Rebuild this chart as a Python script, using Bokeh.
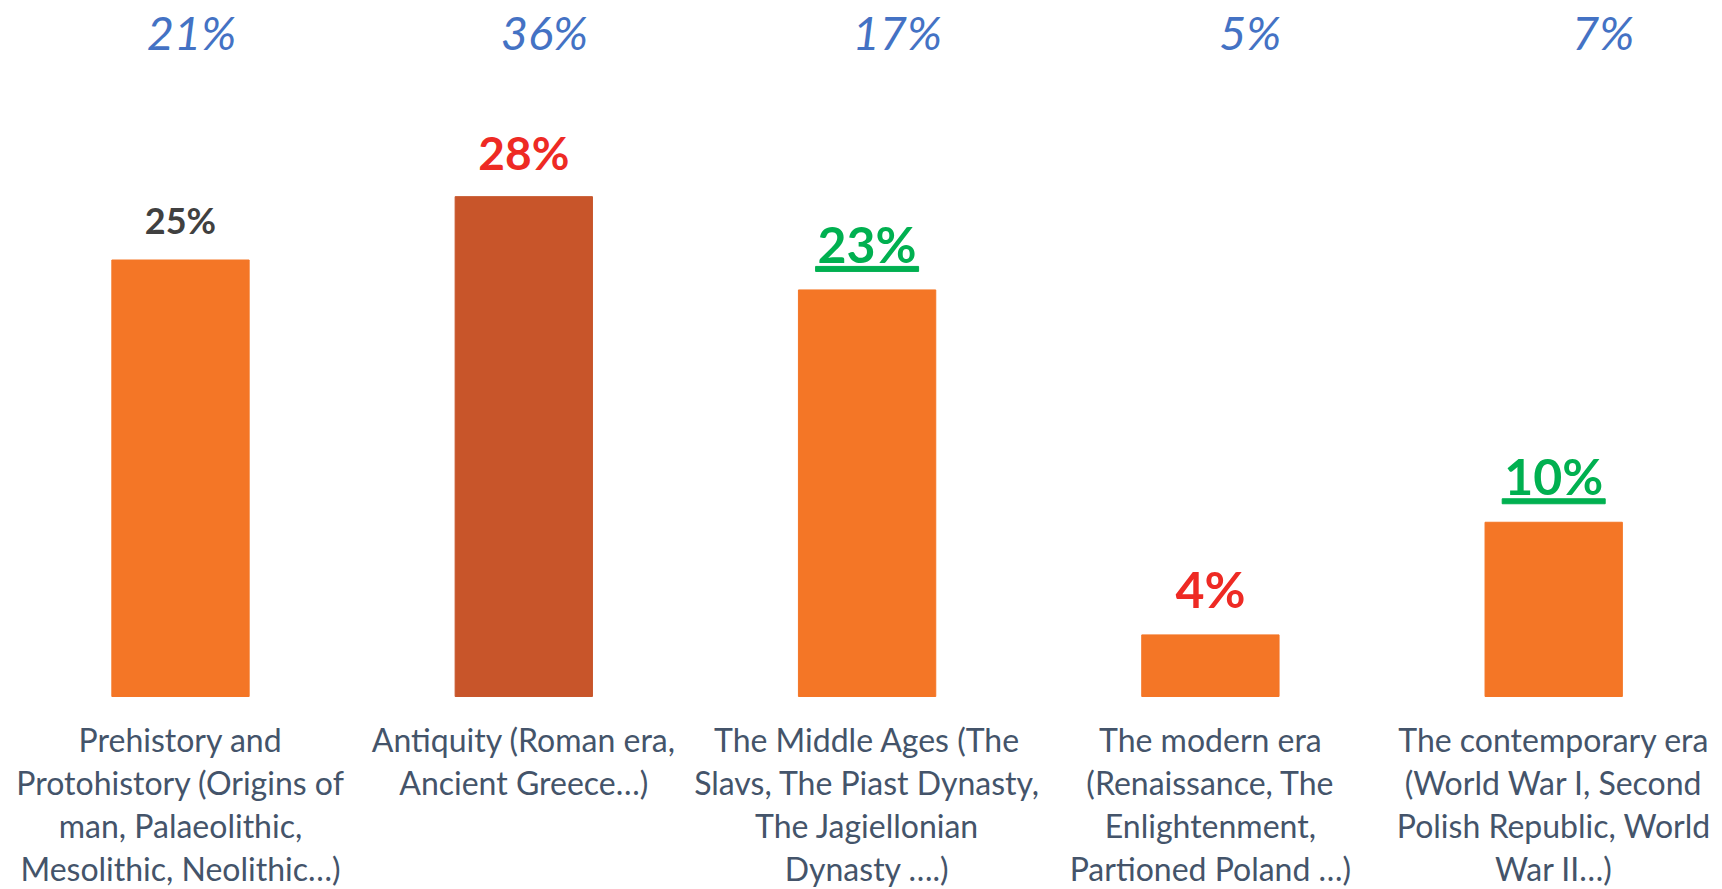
import numpy as np
from bokeh.plotting import figure
from bokeh.models import ColumnDataSource, Range1d
from bokeh.core.properties import value
from bokeh.embed import file_html
from bokeh.resources import INLINE

categories = [
    "Prehistory and\nProtohistory (Origins of\nman, Palaeolithic,\nMesolithic, Neolithic…)",
    "Antiquity (Roman era,\nAncient Greece…)",
    "The Middle Ages (The\nSlavs, The Piast Dynasty,\nThe Jagiellonian\nDynasty ….)",
    "The modern era\n(Renaissance, The\nEnlightenment,\nPartioned Poland …)",
    "The contemporary era\n(World War I, Second\nPolish Republic, World\nWar II…)",
]
values = [24.8, 28.4, 23.1, 3.5, 9.9]
value_labels = ["25%", "28%", "23%", "4%", "10%"]
top_labels = ["21%", "36%", "17%", "5%", "7%"]
bar_colors = ["#F47626", "#C8552A", "#F47626", "#F47626", "#F47626"]
label_colors = ["#404040", "#EE2A24", "#00B050", "#EE2A24", "#00B050"]
label_sizes = [36, 46, 50, 50, 50]
underlined = [False, False, True, False, True]

FONT = "Lato"
PX_PER_UNIT = 17.6

idx = np.arange(len(categories))
src = ColumnDataSource(dict(
    x=idx, top=values, lab=value_labels, col=bar_colors,
    lcol=label_colors, lsize=[f"{s}px" for s in label_sizes],
    yoff=[-(26 + 0.4 * s) for s in label_sizes],
))

p = figure(width=1722, height=889, output_backend="svg", toolbar_location=None,
           x_range=Range1d(-0.5243, 4.4917), y_range=Range1d(-10.966, 39.545),
           min_border=0, outline_line_color=None)
p.axis.visible = False
p.grid.visible = False
p.background_fill_color = "white"

p.vbar(x="x", top="top", bottom=0, width=0.4, color="col", source=src)

# value labels above bars
p.text(x="x", y="top", text="lab", source=src, text_align="center",
       text_baseline="alphabetic", y_offset="yoff", text_color="lcol",
       text_font_size="lsize", text_font_style="bold", text_font=value(FONT))

# underlines for highlighted labels
u_idx = [i for i, u in enumerate(underlined) if u]
p.rect(x=[idx[i] for i in u_idx], y=[values[i] + 21 / PX_PER_UNIT for i in u_idx],
       width=103, height=5, width_units="screen", height_units="screen",
       color="#00B050")

# top blue italic labels
p.text(x=idx * 1.028 + 0.032, y=[37.73] * len(top_labels), text=top_labels,
       text_align="center", text_baseline="alphabetic", text_color="#4472C4",
       text_font_size="47px", text_font_style="italic", text_font=value(FONT))

# category labels
p.text(x=idx, y=[-1.31] * len(categories), text=categories, text_align="center",
       text_baseline="top", text_color="#44546A", text_font_size="32px",
       text_line_height=1.11, text_font=value(FONT))

open("out.html", "w").write(file_html(p, INLINE))
